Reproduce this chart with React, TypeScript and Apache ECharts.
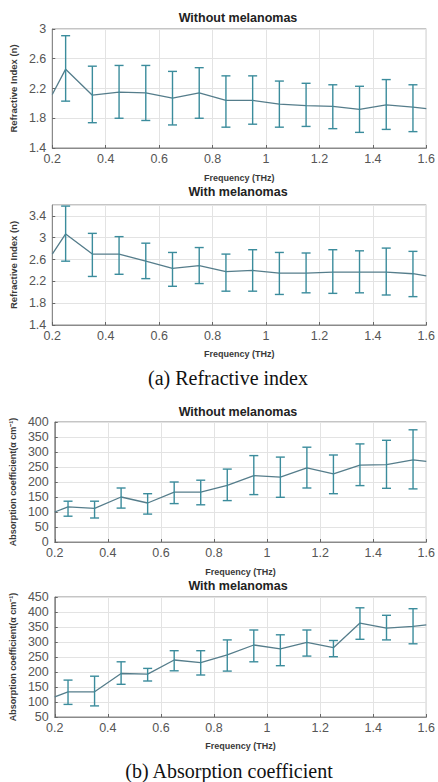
import React, { useEffect, useRef } from "react";
import * as echarts from "echarts";

// Frequencies (THz)
const lineFreq = [0.2, 0.25, 0.35, 0.45, 0.55, 0.65, 0.75, 0.85, 0.95, 1.05, 1.15, 1.25, 1.35, 1.45, 1.55, 1.6];
const barFreq = [0.25, 0.35, 0.45, 0.55, 0.65, 0.75, 0.85, 0.95, 1.05, 1.15, 1.25, 1.35, 1.45, 1.55];

// Refractive index, without melanomas
const riWithoutMean = [2.12, 2.46, 2.11, 2.15, 2.14, 2.07, 2.14, 2.04, 2.04, 1.99, 1.97, 1.96, 1.92, 1.98, 1.95, 1.93];
const riWithoutHigh = [2.91, 2.50, 2.51, 2.51, 2.43, 2.48, 2.37, 2.37, 2.30, 2.27, 2.25, 2.23, 2.32, 2.25];
const riWithoutLow = [2.03, 1.74, 1.80, 1.77, 1.71, 1.80, 1.68, 1.72, 1.68, 1.69, 1.66, 1.61, 1.65, 1.62];

// Refractive index, with melanomas
const riWithMean = [2.70, 3.07, 2.70, 2.70, 2.57, 2.44, 2.49, 2.38, 2.40, 2.35, 2.35, 2.37, 2.37, 2.37, 2.34, 2.30];
const riWithHigh = [3.58, 3.08, 3.02, 2.90, 2.73, 2.82, 2.70, 2.78, 2.73, 2.72, 2.78, 2.76, 2.81, 2.75];
const riWithLow = [2.57, 2.29, 2.33, 2.25, 2.11, 2.16, 2.02, 2.02, 1.96, 1.99, 1.98, 1.99, 1.95, 1.92];

// Absorption coefficient, without melanomas
const acWithoutMean = [100, 117, 112, 150, 130, 166, 166, 189, 221, 216, 247, 227, 256, 258, 274, 269];
const acWithoutHigh = [136, 136, 180, 161, 200, 206, 243, 288, 283, 316, 290, 327, 339, 374];
const acWithoutLow = [86, 80, 113, 93, 128, 124, 138, 158, 149, 180, 161, 188, 179, 177];

// Absorption coefficient, with melanomas
const acWithMean = [117, 134, 134, 195, 193, 240, 231, 257, 290, 277, 299, 281, 363, 346, 352, 357];
const acWithHigh = [173, 186, 234, 212, 271, 271, 307, 340, 324, 340, 305, 414, 389, 411];
const acWithLow = [92, 87, 159, 170, 204, 190, 203, 234, 221, 253, 251, 309, 307, 294];

const xTicks = { min: 0.2, max: 1.6, interval: 0.2 };

const panelTitles = ["Without melanomas", "With melanomas", "Without melanomas", "With melanomas"];
const yNames = [
  "Refractive Index (n)",
  "Refractive Index (n)",
  "Absorption coefficient(α cm⁻¹)",
  "Absorption coefficient(α cm⁻¹)",
];
const yRanges = [
  { min: 1.4, max: 3, interval: 0.4 },
  { min: 1.4, max: 3.6, interval: 0.4 },
  { min: 0, max: 400, interval: 50 },
  { min: 50, max: 450, interval: 50 },
];
const captions = ["(a) Refractive index", "(b) Absorption coefficient"];

const LINE_COLOR = "#557d8b";
const BAR_COLOR = "#3b8c9c";

export default function App() {
  const ref = useRef<HTMLDivElement>(null);
  useEffect(() => {
    if (!ref.current) return;
    const chart = echarts.init(ref.current, null, { renderer: "svg" });

    const grids = [
      { left: 49, width: 379, top: 29, height: 119 },
      { left: 49, width: 379, top: 205, height: 120 },
      { left: 49, width: 379, top: 422, height: 120 },
      { left: 49, width: 379, top: 597, height: 120 },
    ];
    const titleY = [18, 192, 412, 586];
    const xNameGap = [25, 24, 25, 24];
    const yNameGap = [27, 27, 37, 37];

    const means = [riWithoutMean, riWithMean, acWithoutMean, acWithMean];
    const highs = [riWithoutHigh, riWithHigh, acWithoutHigh, acWithHigh];
    const lows = [riWithoutLow, riWithLow, acWithoutLow, acWithLow];

    const series: any[] = [];
    for (let i = 0; i < 4; i++) {
      series.push({
        type: "line",
        xAxisIndex: i,
        yAxisIndex: i,
        data: lineFreq.map((f, k) => [f, means[i][k]]),
        symbol: "none",
        lineStyle: { color: LINE_COLOR, width: 1.3 },
        z: 3,
      });
      series.push({
        type: "custom",
        xAxisIndex: i,
        yAxisIndex: i,
        data: barFreq.map((f, k) => [f, lows[i][k], highs[i][k]]),
        encode: { x: 0, y: [1, 2] },
        z: 4,
        renderItem: (params: any, api: any) => {
          const x = api.value(0);
          const lo = api.coord([x, api.value(1)]);
          const hi = api.coord([x, api.value(2)]);
          const hw = 4.5;
          const style = { stroke: BAR_COLOR, lineWidth: 1.4 };
          return {
            type: "group",
            children: [
              { type: "line", shape: { x1: hi[0], y1: hi[1], x2: lo[0], y2: lo[1] }, style },
              { type: "line", shape: { x1: hi[0] - hw, y1: hi[1], x2: hi[0] + hw, y2: hi[1] }, style },
              { type: "line", shape: { x1: lo[0] - hw, y1: lo[1], x2: lo[0] + hw, y2: lo[1] }, style },
            ],
          };
        },
      });
    }

    const option: any = {
      animation: false,
      backgroundColor: "#ffffff",
      grid: grids.map((g) => ({
        ...g,
        show: true,
        borderColor: "#8a8a8a",
        borderWidth: 1,
        backgroundColor: "#ffffff",
        containLabel: false,
      })),
      xAxis: grids.map((_, i) => ({
        type: "value",
        gridIndex: i,
        ...xTicks,
        name: "Frequency (THz)",
        nameLocation: "middle",
        nameGap: xNameGap[i],
        nameTextStyle: { fontFamily: "Liberation Sans, Arial, sans-serif", fontSize: 9, fontWeight: "bold", color: "#3a3a3a" },
        axisLine: { show: true, lineStyle: { color: "#8a8a8a" } },
        axisTick: { show: true, inside: true, length: 3, lineStyle: { color: "#666" } },
        axisLabel: { fontFamily: "Liberation Sans, Arial, sans-serif", fontSize: 12.5, color: "#555", margin: 4 },
        splitLine: { show: true, lineStyle: { color: "#e3e3e3", width: 1 } },
      })),
      yAxis: grids.map((_, i) => ({
        type: "value",
        gridIndex: i,
        ...yRanges[i],
        name: yNames[i],
        nameLocation: "middle",
        nameGap: yNameGap[i],
        nameTextStyle: { fontFamily: "Liberation Sans, Arial, sans-serif", fontSize: i < 2 ? 9.5 : 9, fontWeight: "bold", color: "#3a3a3a" },
        axisLine: { show: true, lineStyle: { color: "#8a8a8a" } },
        axisTick: { show: true, inside: true, length: 3, lineStyle: { color: "#666" } },
        axisLabel: {
          fontFamily: "Liberation Sans, Arial, sans-serif",
          fontSize: 12.5,
          color: "#555",
          margin: 6,
          showMaxLabel: i === 1 ? false : true,
        },
        splitLine: { show: true, lineStyle: { color: "#e3e3e3", width: 1 } },
      })),
      graphic: [
        ...panelTitles.map((t, i) => ({
          type: "text",
          x: 238,
          y: titleY[i],
          style: {
            text: t,
            fontFamily: "Liberation Sans, Arial, sans-serif",
            fontSize: 12.5,
            fontWeight: "bold",
            fill: "#222",
            align: "center",
            verticalAlign: "middle",
          },
        })),
        {
          type: "text",
          x: 228,
          y: 378,
          style: {
            text: captions[0],
            fontFamily: "Liberation Serif, Times New Roman, serif",
            fontSize: 20,
            fill: "#111",
            align: "center",
            verticalAlign: "middle",
          },
        },
        {
          type: "text",
          x: 229,
          y: 771,
          style: {
            text: captions[1],
            fontFamily: "Liberation Serif, Times New Roman, serif",
            fontSize: 20,
            fill: "#111",
            align: "center",
            verticalAlign: "middle",
          },
        },
      ],
      series,
    };
    chart.setOption(option);
    return () => chart.dispose();
  }, []);

  return (
    <div
      ref={ref}
      style={{ position: "absolute", left: 0, top: 0, width: 438, height: 782 }}
    />
  );
}
